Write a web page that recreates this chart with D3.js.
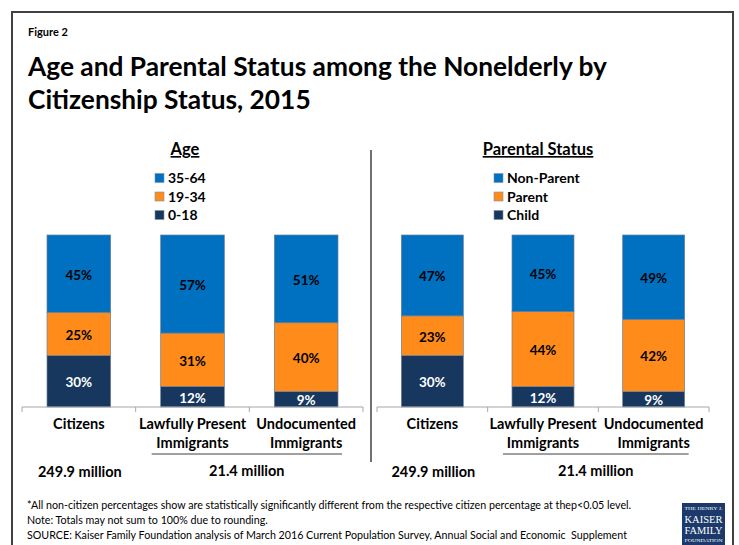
<!DOCTYPE html>
<html>
<head>
  <meta charset="utf-8">
  <title>Age and Parental Status</title>
  <script src="https://d3js.org/d3.v7.min.js"></script>
  <style>
    body { margin: 0; background: #fff; }
    text { font-family: Lato, "Open Sans", sans-serif; }
  </style>
</head>
<body>
  <svg width="739" height="545" id="mainsvg"></svg>
  <script>
    // data
    const groups = ['Citizens', 'Lawfully Present|Immigrants', 'Undocumented|Immigrants'];
    const populations = ['249.9 million', '21.4 million'];

    const ageKeys = ['0-18', '19-34', '35-64'];
    const ageValues = [
      [30, 25, 45],
      [12, 31, 57],
      [9, 40, 51]
    ];

    const parentKeys = ['Child', 'Parent', 'Non-Parent'];
    const parentValues = [
      [30, 23, 47],
      [12, 44, 45],
      [9, 42, 49]
    ];

    const colors = ['#17375E', '#FF8C1A', '#0070C0'];
    const labelColors = ['#fff', '#000', '#000'];

    const svg = d3.select('#mainsvg');

    // frame
    svg.append('rect')
      .attr('x', 12).attr('y', 12)
      .attr('width', 721).attr('height', 545)
      .attr('fill', 'none').attr('stroke', '#404040').attr('stroke-width', 2);

    svg.append('text').text('Figure 2')
      .attr('x', 28).attr('y', 36)
      .attr('font-size', 11).attr('font-weight', 'bold');

    svg.append('text')
      .attr('font-size', 26.3).attr('font-weight', 'bold')
      .selectAll('tspan')
      .data(['Age and Parental Status among the Nonelderly by', 'Citizenship Status, 2015'])
      .join('tspan')
      .attr('x', 28)
      .attr('y', (d, i) => 76 + i * 33)
      .text(d => d);

    // divider
    svg.append('line')
      .attr('x1', 371).attr('x2', 371).attr('y1', 150).attr('y2', 462)
      .attr('stroke', '#404040').attr('stroke-width', 1.5);

    const yScale = d3.scaleLinear().domain([0, 1]).range([407, 235]);

    function panel(opts) {
      const g = svg.append('g');
      const x = d3.scaleBand()
        .domain(groups)
        .range(opts.range)
        .paddingInner(0.44)
        .paddingOuter(0.22);

      // panel title
      g.append('text').text(opts.title)
        .attr('x', opts.titleX).attr('y', 155)
        .attr('text-anchor', 'middle')
        .attr('font-size', 16.5).attr('font-weight', 'bold')
        .attr('text-decoration', 'underline');

      // legend, top entry is last key
      const legendKeys = opts.keys.slice().reverse();
      const lg = g.append('g').attr('transform', `translate(${opts.legendX},0)`);
      legendKeys.forEach((k, i) => {
        const cy = 178 + i * 18.5;
        lg.append('rect')
          .attr('x', 0).attr('y', cy - 4.5)
          .attr('width', 9).attr('height', 9)
          .attr('fill', colors[opts.keys.indexOf(k)])
          .attr('stroke', '#7f8fa6').attr('stroke-width', 0.6);
        lg.append('text').text(k)
          .attr('x', 13).attr('y', cy + 5)
          .attr('font-size', 14).attr('font-weight', 'bold');
      });

      const rows = groups.map((grp, i) => {
        const o = { group: grp };
        opts.keys.forEach((k, j) => { o[k] = opts.values[i][j]; });
        return o;
      });
      const series = d3.stack().keys(opts.keys).offset(d3.stackOffsetExpand)(rows);

      series.forEach((s, si) => {
        const sg = g.append('g');
        sg.selectAll('rect')
          .data(s)
          .join('rect')
          .attr('x', d => x(d.data.group))
          .attr('width', x.bandwidth())
          .attr('y', d => yScale(d[1]))
          .attr('height', d => yScale(d[0]) - yScale(d[1]))
          .attr('fill', colors[si])
          .attr('stroke', '#6f7f96').attr('stroke-width', 0.7);
        sg.selectAll('text')
          .data(s)
          .join('text')
          .attr('x', d => x(d.data.group) + x.bandwidth() / 2)
          .attr('y', d => {
            const mid = (yScale(d[0]) + yScale(d[1])) / 2 + 1;
            return Math.min(mid, 402) + 5;
          })
          .attr('text-anchor', 'middle')
          .attr('font-size', 13.5).attr('font-weight', 'bold')
          .attr('fill', labelColors[si])
          .text(d => d.data[s.key] + '%');
      });

      // axis
      const axis = g.append('g').attr('transform', 'translate(0,407)');
      axis.append('line')
        .attr('x1', opts.range[0]).attr('x2', opts.range[1])
        .attr('stroke', '#a6a6a6').attr('stroke-width', 1);
      const edges = d3.range(groups.length + 1).map(i => opts.range[0] + i * (opts.range[1] - opts.range[0]) / groups.length);
      axis.selectAll('.tick')
        .data(edges)
        .join('line')
        .attr('x1', d => d).attr('x2', d => d)
        .attr('y1', 0).attr('y2', 5)
        .attr('stroke', '#a6a6a6');

      // category labels
      groups.forEach(grp => {
        const lines = grp.split('|');
        const cx = x(grp) + x.bandwidth() / 2;
        const t = g.append('text')
          .attr('text-anchor', 'middle')
          .attr('font-size', 14.5).attr('font-weight', 'bold');
        lines.forEach((ln, i) => {
          t.append('tspan').attr('x', cx).attr('y', 429 + i * 19).text(ln);
        });
      });

      // bracket under immigrant groups
      const x0 = x(groups[1]) - 9;
      const x1 = x(groups[2]) + x.bandwidth() + 4;
      g.append('line')
        .attr('x1', x0).attr('x2', x1)
        .attr('y1', 454).attr('y2', 454)
        .attr('stroke', '#404040').attr('stroke-width', 1);

      g.append('text').text(populations[0])
        .attr('x', x(groups[0]) + x.bandwidth() / 2 + 1).attr('y', 477)
        .attr('text-anchor', 'middle')
        .attr('font-size', 14.5).attr('font-weight', 'bold');
      g.append('text').text(populations[1])
        .attr('x', (x0 + x1) / 2).attr('y', 476)
        .attr('text-anchor', 'middle')
        .attr('font-size', 14.5).attr('font-weight', 'bold');
    }

    panel({ title: 'Age', titleX: 185, legendX: 155, keys: ageKeys, values: ageValues, range: [22, 363] });
    panel({ title: 'Parental Status', titleX: 538, legendX: 494, keys: parentKeys, values: parentValues, range: [377, 709] });

    // footnotes
    svg.append('text')
      .attr('font-size', 10.7)
      .selectAll('tspan')
      .data([
        '*All non-citizen percentages show are statistically significantly different from the respective citizen percentage at thep<0.05 level.',
        'Note: Totals may not sum to 100% due to rounding.',
        'SOURCE: Kaiser Family Foundation analysis of March 2016 Current Population Survey, Annual Social and Economic  Supplement'
      ])
      .join('tspan')
      .attr('x', 27)
      .attr('y', (d, i) => 509 + i * 15)
      .attr('xml:space', 'preserve')
      .text(d => d);

    // logo
    const logo = svg.append('g').attr('transform', 'translate(682,503)');
    logo.append('rect').attr('width', 43).attr('height', 45).attr('fill', '#1b3a6b');
    const logoText = [['THE HENRY J.', 7, 4], ['KAISER', 20, 10], ['FAMILY', 31, 10], ['FOUNDATION', 39, 4]];
    logoText.forEach(([t, y, fs]) => {
      logo.append('text').text(t)
        .attr('x', 21.5).attr('y', y)
        .attr('text-anchor', 'middle')
        .style('font-family', '"Liberation Serif", serif')
        .attr('font-size', fs).attr('fill', '#fff')
        .attr('textLength', 38).attr('lengthAdjust', 'spacingAndGlyphs');
    });
  </script>
</body>
</html>
